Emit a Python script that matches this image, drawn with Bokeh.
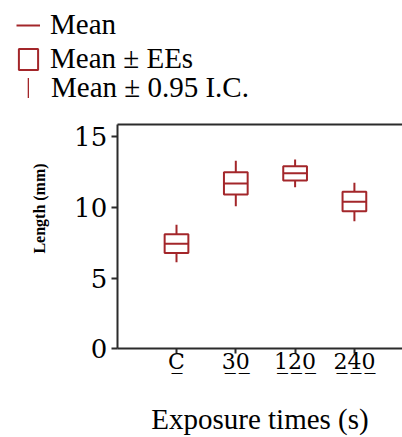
from bokeh.plotting import figure
from bokeh.models import (ColumnDataSource, Legend, LegendItem, LinearAxis,
                          FixedTicker, Range1d)
from bokeh.embed import file_html
from bokeh.resources import INLINE

# ---- data ----
categories = ["C", "30", "120", "240"]
mean_vals = [7.43, 11.70, 12.43, 10.40]
ee_low = [6.77, 10.92, 11.91, 9.74]
ee_high = [8.11, 12.50, 12.92, 11.11]
ci_low = [6.13, 10.09, 11.44, 9.03]
ci_high = [8.78, 13.30, 13.40, 11.75]
y_ticks = [0, 5, 10, 15]

RED = "#a3262a"
AX = "#2b2b2b"
FONT = "Liberation Serif"
TICK_FONT = "DejaVu Serif"
HALF = 0.2
Y_TOP = 15.9          # top of the drawn frame
X_END = 4.811         # visible right end

xpos = list(range(1, len(categories) + 1))
src = ColumnDataSource(dict(
    x=xpos,
    left=[x - HALF for x in xpos],
    right=[x + HALF for x in xpos],
    mean=mean_vals,
    ee_low=ee_low,
    ee_high=ee_high,
    ci_mid=[(a + b) / 2 for a, b in zip(ci_low, ci_high)],
    ci_len=[b - a for a, b in zip(ci_low, ci_high)],
))

# the frame covers the whole canvas; axes sit at fixed data locations
p = figure(width=402, height=437, output_backend="svg", toolbar_location=None,
           x_range=Range1d(-1.968, X_END), y_range=Range1d(-6.28, 24.65),
           x_axis_location=None, y_axis_location=None,
           min_border=0, min_border_left=0, min_border_right=0,
           min_border_top=0, min_border_bottom=0,
           background_fill_color="white", border_fill_color="white")
p.outline_line_color = None
p.grid.visible = False

r_ci = p.rect(x="x", y="ci_mid", width=2, width_units="screen", height="ci_len",
              source=src, fill_color=RED, line_color=None)
r_box = p.quad(left="left", right="right", bottom="ee_low", top="ee_high",
               source=src, fill_color="white", line_color=RED, line_width=2)
r_mean = p.segment(x0="left", x1="right", y0="mean", y1="mean", source=src,
                   line_color=RED, line_width=2)

axis_style = dict(axis_line_color=AX, axis_line_width=2,
                  major_tick_line_color=AX, major_tick_line_width=2,
                  minor_tick_line_color=None, major_tick_in=0,
                  major_label_text_color="black", axis_label_text_color="black",
                  axis_label_text_font=FONT)

# x axis
xa = LinearAxis(fixed_location=0, bounds=(0, X_END), ticker=FixedTicker(ticks=xpos),
                major_label_overrides={x: "".join(ch + "\u0332" for ch in c)
                                       for x, c in zip(xpos, categories)},
                major_tick_out=5, major_label_text_font=TICK_FONT,
                major_label_text_font_size="22px", major_label_standoff=-5,
                axis_label="Exposure times (s)", axis_label_text_font_size="29px",
                axis_label_text_font_style="normal", axis_label_standoff=26,
                **axis_style)
p.add_layout(xa, "below")

# y axis
ya = LinearAxis(fixed_location=0, bounds=(0, Y_TOP), ticker=FixedTicker(ticks=y_ticks),
                major_tick_out=6, major_label_text_font=TICK_FONT,
                major_label_text_font_size="26px", major_label_standoff=4,
                **axis_style)
p.add_layout(ya, "left")

# y axis title (placed along the upper part of the axis as in the reference)
ya_title = LinearAxis(fixed_location=0, bounds=(4.0, Y_TOP), ticker=FixedTicker(ticks=[]),
                      axis_line_color=None, major_tick_line_color=None,
                      minor_tick_line_color=None, major_tick_out=0, major_label_standoff=0,
                      major_label_text_font_size="0px",
                      axis_label="Length (mm)", axis_label_text_font=FONT,
                      axis_label_text_font_size="16px", axis_label_text_font_style="bold",
                      axis_label_text_color="black", axis_label_standoff=70)
p.add_layout(ya_title, "left")

# top frame line
top_axis = LinearAxis(fixed_location=Y_TOP, bounds=(0, X_END), ticker=FixedTicker(ticks=[]),
                      major_label_text_font_size="0px", axis_line_color=AX,
                      axis_line_width=2, major_tick_out=0, major_tick_in=0,
                      major_label_standoff=0, major_tick_line_color=None,
                      minor_tick_line_color=None)
p.add_layout(top_axis, "above")

common = dict(padding=0, margin=0, border_line_color=None, background_fill_alpha=0,
              label_text_font=FONT, label_text_font_size="29px",
              label_text_color="black")
leg1 = Legend(items=[LegendItem(label="Mean", renderers=[r_mean]),
                     LegendItem(label="Mean ± EEs", renderers=[r_box])],
              location=(16, 362), glyph_width=24, glyph_height=26,
              label_standoff=10, spacing=1, **common)
leg2 = Legend(items=[LegendItem(label="Mean ± 0.95 I.C.", renderers=[r_ci])],
              location=(27, 333), glyph_width=2, glyph_height=25,
              label_standoff=22, spacing=0, **common)
p.add_layout(leg1)
p.add_layout(leg2)

open("out.html", "w").write(file_html(p, INLINE))
